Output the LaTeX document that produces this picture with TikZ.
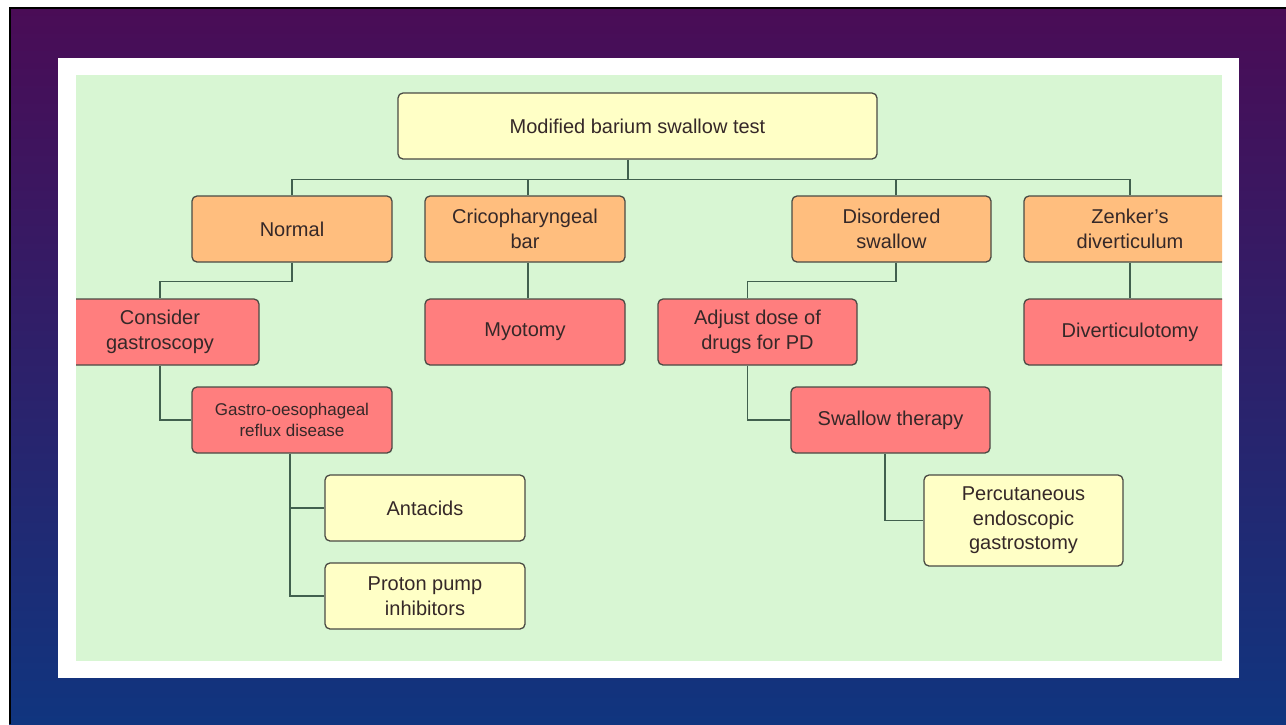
\documentclass[tikz,border=0pt]{standalone}
\usepackage{fontspec}
\setmainfont{Liberation Sans}
\definecolor{slidetop}{HTML}{4A0C56}
\definecolor{slidebot}{HTML}{10357F}
\definecolor{panelgreen}{HTML}{D8F6D3}
\definecolor{boxyellow}{HTML}{FFFFC6}
\definecolor{boxorange}{HTML}{FFBE7E}
\definecolor{boxred}{HTML}{FF7E7E}
\definecolor{boxline}{HTML}{4A4A44}
\definecolor{connline}{HTML}{41604E}
\definecolor{txt}{HTML}{352828}
\tikzset{
  box/.style={draw=boxline, line width=1.3pt, rounded corners=5pt, inner sep=0pt,
    minimum width=200pt, minimum height=66pt, align=center, text=txt,
    font=\fontsize{20}{24.5}\selectfont},
  ybox/.style={box, fill=boxyellow},
  obox/.style={box, fill=boxorange},
  rbox/.style={box, fill=boxred},
  conn/.style={draw=connline, line width=1.5pt}
}
\begin{document}
\begin{tikzpicture}[x=1pt,y=-1pt]
\useasboundingbox (0,0) rectangle (1286,724);
\fill[white] (0,0) rectangle (1286,724);
\shade[top color=slidetop, bottom color=slidebot] (9,7) rectangle (1286,724);
\draw[black, line width=2.5pt] (10.2,724) -- (10.2,8.2) -- (1286,8.2);
\fill[white] (58,58) rectangle (1239,678);
\fill[panelgreen] (76,75) rectangle (1222,661);
\begin{scope}
\clip (76,75) rectangle (1222,661);
\node[ybox, minimum width=479pt] (root) at (637.5,126) {Modified barium swallow test};
\node[obox] (normal) at (292,229) {Normal};
\node[obox] (crico) at (525,229) {Cricopharyngeal\\bar};
\node[obox, minimum width=199pt] (disordered) at (891.5,229) {Disordered\\swallow};
\node[obox, minimum width=212pt] (zenker) at (1130,229) {Zenker's\\diverticulum};
\node[rbox, minimum width=198pt] (consider) at (160,332) {Consider\\gastroscopy};
\node[rbox] (myotomy) at (525,332) {Myotomy};
\node[rbox, minimum width=199pt] (adjust) at (757.5,332) {Adjust dose of\\drugs for PD};
\node[rbox, minimum width=212pt] (divert) at (1130,332) {Diverticulotomy};
\node[rbox, font=\fontsize{17}{21}\selectfont] (gerd) at (292,420) {Gastro-oesophageal\\reflux disease};
\node[rbox, minimum width=199pt] (swallow) at (890.5,420) {Swallow therapy};
\node[ybox] (antacids) at (425,508) {Antacids};
\node[ybox] (ppi) at (425,596) {Proton pump\\inhibitors};
\node[ybox, minimum width=199pt, minimum height=91pt] (peg) at (1023.5,520.5) {Percutaneous\\endoscopic\\gastrostomy};
% connectors
\draw[conn] ([xshift=-9.5pt]root.south) -- ++(0,20) coordinate (bus);
\draw[conn] (normal.north) |- (bus) -| (zenker.north);
\draw[conn] ([xshift=3pt]crico.north) -- ([xshift=3pt]crico.north |- bus);
\draw[conn] ([xshift=4.5pt]disordered.north) -- ([xshift=4.5pt]disordered.north |- bus);
\draw[conn] (normal.south) -- ++(0,19) -| (consider.north);
\draw[conn] (consider.south) |- (gerd.west);
\draw[conn] ([xshift=-2pt]gerd.south) |- (antacids.west);
\draw[conn] ([xshift=-2pt]gerd.south) |- (ppi.west);
\draw[conn] ([xshift=3pt]crico.south) -- ([xshift=3pt]myotomy.north);
\draw[conn] ([xshift=4.5pt]disordered.south) -- ++(0,19) -| ([xshift=-10pt]adjust.north);
\draw[conn] ([xshift=-10pt]adjust.south) |- (swallow.west);
\draw[conn] ([xshift=-5.5pt]swallow.south) |- (peg.west);
\draw[conn] (zenker.south) -- (divert.north);
\end{scope}
\end{tikzpicture}
\end{document}
